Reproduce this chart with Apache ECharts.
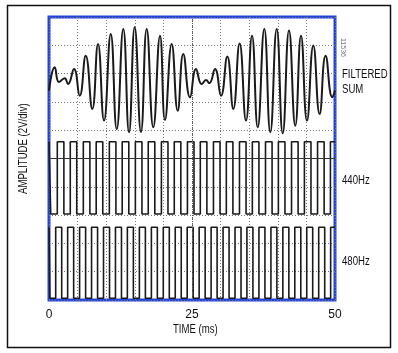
<!DOCTYPE html>
<html>
<head>
<meta charset="utf-8">
<script src="https://cdn.jsdelivr.net/npm/echarts@6/dist/echarts.min.js"></script>
<style>
html,body{margin:0;padding:0;background:#fff;}
#main{width:398px;height:353px;}
</style>
</head>
<body>
<div id="main"></div>
<script>
// filtered sum: peaks and troughs (ms, divisions)
var sumTime = [0, 1.0, 1.75, 2.74, 3.32, 4.37, 5.37, 6.42, 7.57, 8.57, 9.62, 10.79, 11.84, 12.99, 13.99, 14.98,
  16.08, 17.08, 18.23, 19.41, 20.28, 21.45, 22.5, 23.48, 24.65, 25.7, 26.7, 27.45, 28.02, 29.02, 30.07, 31.17,
  32.22, 33.32, 34.44, 35.49, 36.49, 37.64, 38.69, 39.81, 40.86, 41.96, 43.06, 44.06, 45.1, 46.21, 47.31, 48.36, 49.53, 50];
var sumValue = [7.4, 8.22, 7.7, 7.84, 7.63, 8.16, 7.22, 8.63, 6.75, 9.05, 6.34, 9.4, 6.04, 9.58, 5.93, 9.64,
  5.94, 9.58, 6.1, 9.34, 6.36, 9.05, 6.69, 8.69, 7.16, 8.16, 7.63, 7.77, 7.66, 8.16, 7.22, 8.6,
  6.75, 9.06, 6.34, 9.34, 6.1, 9.58, 5.93, 9.58, 5.89, 9.52, 6.16, 9.34, 6.34, 8.99, 6.57, 8.63, 7.16, 7.4];

// 440Hz square wave edges (ms) and levels (divisions)
var rise440 = [1.45, 3.72, 6.0, 8.25, 10.55, 12.8, 15.1, 17.35, 19.65, 21.9, 24.2, 26.45, 28.75, 31.0, 33.3,
  35.55, 37.85, 40.1, 42.4, 44.65, 46.95, 49.2];
var fall440 = [0.3, 2.6, 4.85, 7.15, 9.4, 11.7, 13.95, 16.25, 18.5, 20.8, 23.05, 25.35, 27.6, 29.9, 32.15,
  34.45, 36.7, 39.0, 41.25, 43.55, 45.8, 48.1];
var level440 = [3.04, 5.59];

// 480Hz square wave edges (ms) and levels (divisions)
var rise480 = [1.17, 3.26, 5.35, 7.44, 9.53, 11.62, 13.7, 15.8, 17.9, 19.98, 22.07, 24.16, 26.25, 28.34, 30.43,
  32.52, 34.6, 36.7, 38.8, 40.88, 42.97, 45.06, 47.15, 49.24];
var fall480 = [0.15, 2.22, 4.31, 6.4, 8.49, 10.58, 12.67, 14.75, 16.85, 18.94, 21.03, 23.12, 25.2, 27.3, 29.39,
  31.48, 33.57, 35.65, 37.75, 39.84, 41.93, 44.02, 46.1, 48.2];
var level480 = [0.06, 2.57];

var xTicks = [0, 25, 50];

function squareData(rise, fall, level) {
  var edges = [];
  rise.forEach(function (t) { edges.push([t, 1]); });
  fall.forEach(function (t) { edges.push([t, 0]); });
  edges.sort(function (a, b) { return a[0] - b[0]; });
  var cur = edges[0][1] ? 0 : 1;
  var pts = [[0, level[cur]]];
  edges.forEach(function (e) {
    pts.push([e[0], level[cur]]);
    cur = e[1];
    pts.push([e[0], level[cur]]);
  });
  pts.push([50, level[cur]]);
  return pts;
}

var sumData = sumTime.map(function (t, i) { return [t, sumValue[i]]; });

// narrow-looking label text (no condensed font installed, so squeeze it)
function label(text, x, y, extra) {
  var el = {
    type: 'text', x: x, y: y, scaleX: 0.8,
    style: { text: text, fontFamily: 'Liberation Sans, Arial, sans-serif', fontSize: 12, fill: '#111' }
  };
  if (extra) Object.keys(extra).forEach(function (k) { el[k] = extra[k]; });
  return el;
}

var myChart = echarts.init(document.getElementById('main'));
var option = {
  animation: false,
  backgroundColor: '#fff',
  grid: {
    left: 49, top: 17, width: 286, height: 283,
    show: true, borderColor: '#2244dd', borderWidth: 3
  },
  xAxis: {
    type: 'value', min: 0, max: 50, interval: 5,
    axisLine: { show: false }, axisTick: { show: false },
    axisLabel: {
      margin: 9, fontSize: 12, color: '#111',
      fontFamily: 'Liberation Sans, Arial, sans-serif',
      formatter: function (v) { return xTicks.indexOf(v) >= 0 ? String(v) : ''; }
    },
    splitLine: { show: true, lineStyle: { color: '#777', width: 1, type: [1, 2] } }
  },
  yAxis: {
    type: 'value', min: 0, max: 10, interval: 1,
    axisLine: { show: false }, axisTick: { show: false }, axisLabel: { show: false },
    splitLine: { show: true, lineStyle: { color: '#777', width: 1, type: [1, 2] } }
  },
  series: [
    {
      name: 'FILTERED SUM', type: 'line', data: sumData, smooth: 0.5, symbol: 'none',
      lineStyle: { color: '#1a1a1a', width: 2 }, z: 5,
      markLine: {
        silent: true, symbol: 'none', label: { show: false },
        data: [
          { yAxis: 5, lineStyle: { color: '#333', width: 1.2, type: 'solid' } },
          { xAxis: 25, lineStyle: { color: '#555', width: 1, type: [1, 1] } }
        ]
      }
    },
    {
      name: '440Hz', type: 'line', data: squareData(rise440, fall440, level440), symbol: 'none',
      lineStyle: { color: '#1a1a1a', width: 1.6 }, z: 4
    },
    {
      name: '480Hz', type: 'line', data: squareData(rise480, fall480, level480), symbol: 'none',
      lineStyle: { color: '#1a1a1a', width: 1.6 }, z: 4
    }
  ],
  graphic: [
    { type: 'rect', shape: { x: 7.5, y: 5.5, width: 383, height: 342 }, style: { fill: 'none', stroke: '#111', lineWidth: 1.5 }, z: -1 },
    label('FILTERED', 342, 69),
    label('SUM', 342, 84),
    label('440Hz', 342, 175),
    label('480Hz', 342, 256),
    label('TIME (ms)', 173, 324),
    label('AMPLITUDE (2V/div)', 18, 194, { rotation: Math.PI / 2 }),
    { type: 'text', x: 346, y: 38, rotation: -Math.PI / 2, style: { text: '11536', fontSize: 7, fill: '#777', fontFamily: 'Liberation Sans, sans-serif' } }
  ]
};
myChart.setOption(option);
</script>
</body>
</html>
